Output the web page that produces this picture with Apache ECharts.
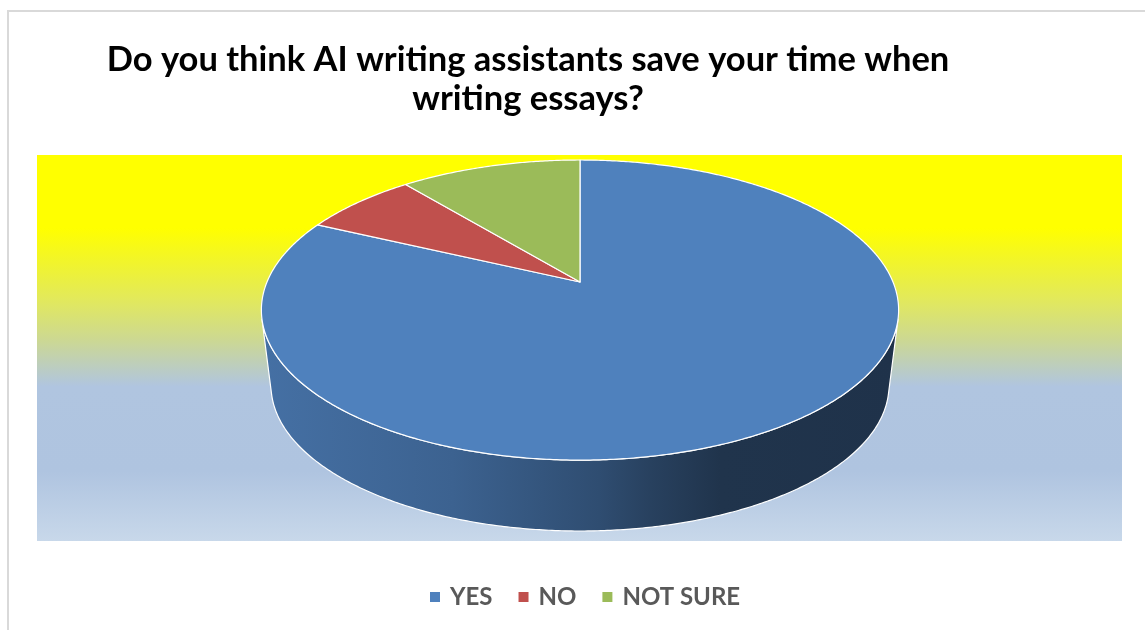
<!DOCTYPE html>
<html>
<head>
<meta charset="utf-8">
<script src="https://cdn.jsdelivr.net/npm/echarts@6/dist/echarts.min.js"></script>
<style>
html,body{margin:0;padding:0;background:#fff;}
#chart{width:1145px;height:630px;}
</style>
</head>
<body>
<div id="chart"></div>
<script>
// ---- data ----
const titleLines = ['Do you think AI writing assistants save your time when', 'writing essays?'];
const categories = ['YES', 'NO', 'NOT SURE'];
const values = [82, 7, 11];
const colors = ['#4F81BD', '#C0504D', '#9BBB59'];

// ---- 3D pie projection (layout) ----
const CX = 580, CY = 282, A = 313, B = 144.8, P = 0.187;
const VX = 580, VY = 2800, K = 0.9697;

function topPt(deg) {
  const t = deg * Math.PI / 180;
  const u = Math.sin(t), v = -Math.cos(t);
  const s = 1 / (1 - P * v);
  return [CX + A * u * s, CY + B * v * s];
}
function botPt(deg) {
  const p = topPt(deg);
  return [VX + K * (p[0] - VX), VY + K * (p[1] - VY)];
}
// silhouette angles (tangent lines through vanishing point)
function silhouette(from, to, sign) {
  let best = from, bv = -Infinity;
  for (let a = from; a <= to; a += 0.1) {
    const p = topPt(a);
    const m = sign * (p[0] - VX) / (VY - p[1]);
    if (m > bv) { bv = m; best = a; }
  }
  return best;
}
const thR = silhouette(60, 140, 1);
const thL = silhouette(220, 300, -1);

const total = values.reduce((s, v) => s + v, 0);
const starts = [], ends = [];
let acc = 0;
values.forEach(v => { starts.push(acc / total * 360); acc += v; ends.push(acc / total * 360); });

function shade(hex, f) {
  const n = parseInt(hex.slice(1), 16);
  const r = Math.round(((n >> 16) & 255) * f), g = Math.round(((n >> 8) & 255) * f), b = Math.round((n & 255) * f);
  return 'rgb(' + r + ',' + g + ',' + b + ')';
}
function wallFill(hex) {
  const l = topPt(thL)[0], r = topPt(thR)[0];
  return {
    type: 'linear', x: l, y: 0, x2: r, y2: 0, global: true,
    colorStops: [
      { offset: 0, color: shade(hex, 0.87) },
      { offset: 0.3, color: shade(hex, 0.76) },
      { offset: 0.53, color: shade(hex, 0.6) },
      { offset: 0.61, color: shade(hex, 0.5) },
      { offset: 0.72, color: shade(hex, 0.4) },
      { offset: 1, color: shade(hex, 0.39) }
    ]
  };
}

function makeRender(i) {
  return function (params, api) {
    const a0 = starts[i], a1 = ends[i];
    const children = [];
    const lo = Math.max(a0, thR), hi = Math.min(a1, thL);
    if (hi > lo) {
      const pts = [];
      for (let a = lo; a < hi; a += 0.5) pts.push(topPt(a));
      pts.push(topPt(hi));
      for (let a = hi; a > lo; a -= 0.5) pts.push(botPt(a));
      pts.push(botPt(lo));
      children.push({
        type: 'polygon', shape: { points: pts }, z2: 1,
        style: { fill: wallFill(colors[i]), stroke: '#ffffff', lineWidth: 1.2, lineJoin: 'round' }
      });
    }
    const tp = [[CX, CY]];
    for (let a = a0; a < a1; a += 0.5) tp.push(topPt(a));
    tp.push(topPt(a1));
    children.push({
      type: 'polygon', shape: { points: tp }, z2: 2,
      style: { fill: api.visual('color'), stroke: '#ffffff', lineWidth: 1.2, lineJoin: 'round' }
    });
    return { type: 'group', children: children };
  };
}

const chart = echarts.init(document.getElementById('chart'), null, { renderer: 'canvas' });
chart.setOption({
  backgroundColor: '#ffffff',
  animation: false,
  title: {
    text: titleLines.join('\n'),
    left: 528,
    top: 40,
    textAlign: 'center',
    padding: 0,
    textStyle: { fontFamily: 'Lato', fontWeight: 'bold', fontSize: 34.5, lineHeight: 39, color: '#000000' }
  },
  legend: {
    data: categories,
    left: 425,
    top: 580,
    icon: 'rect',
    itemWidth: 10,
    itemHeight: 10,
    itemGap: 26,
    selectedMode: false,
    textStyle: { fontFamily: 'Lato', fontWeight: 'bold', fontSize: 24, color: '#595959', padding: [0, 0, 0, 5] }
  },
  graphic: [
    {
      type: 'rect', z: 0, silent: true,
      shape: { x: 8, y: 11, width: 1160, height: 640 },
      style: { fill: '#ffffff', stroke: '#d9d9d9', lineWidth: 2 }
    },
    {
      type: 'rect', z: 0, silent: true,
      shape: { x: 37, y: 155, width: 1085, height: 386 },
      style: {
        fill: {
          type: 'linear', x: 0, y: 0, x2: 0, y2: 1,
          colorStops: [
            { offset: 0, color: '#ffff00' },
            { offset: 0.19, color: '#ffff00' },
            { offset: 0.375, color: '#e2e95c' },
            { offset: 0.48, color: '#ccd893' },
            { offset: 0.6, color: '#b0c5e0' },
            { offset: 0.82, color: '#afc4e0' },
            { offset: 1, color: '#c8d8ea' }
          ]
        }
      }
    }
  ],
  series: categories.map((name, i) => ({
    type: 'custom',
    name: name,
    coordinateSystem: 'none',
    silent: true,
    z: 2,
    itemStyle: { color: colors[i] },
    data: [values[i]],
    renderItem: makeRender(i)
  }))
});
</script>
</body>
</html>
